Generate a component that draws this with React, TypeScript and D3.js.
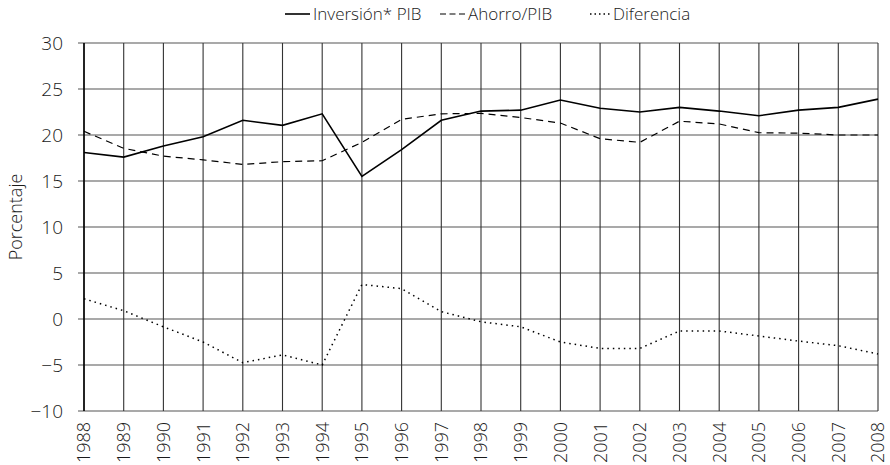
import React from "react";
import * as d3 from "d3";

const years = [1988,1989,1990,1991,1992,1993,1994,1995,1996,1997,1998,1999,2000,2001,2002,2003,2004,2005,2006,2007,2008];
const inversion = [18.1,17.6,18.8,19.8,21.6,21.05,22.3,15.5,18.4,21.6,22.6,22.7,23.8,22.9,22.5,23.0,22.6,22.1,22.7,23.0,23.9];
const ahorro = [20.4,18.55,17.7,17.3,16.8,17.1,17.2,19.2,21.7,22.3,22.35,21.9,21.3,19.6,19.2,21.5,21.2,20.25,20.2,20.0,20.0];
const diferencia = [2.2,0.9,-0.85,-2.5,-4.75,-3.9,-5.0,3.75,3.3,0.8,-0.3,-0.85,-2.5,-3.2,-3.2,-1.3,-1.3,-1.85,-2.4,-2.9,-3.8];
const yTicks = [-10,-5,0,5,10,15,20,25,30];
const legendLabels = ["Inversión* PIB","Ahorro/PIB","Diferencia"];

const W = 890, H = 465;
const left = 84, right = 878, top = 43, bottom = 411;
const FONT = "'Open Sans', 'Noto Sans', sans-serif";
const TXT = "#1a1a1a";

export default function App() {
  const x = d3.scaleLinear().domain([1988, 2008]).range([left, right]);
  const y = d3.scaleLinear().domain([-10, 30]).range([bottom, top]);
  const line = (vals: number[]) =>
    d3.line<number>().x((_, i) => x(years[i])).y((v) => y(v))(vals) || "";

  const series = [
    { vals: inversion, dash: undefined as string | undefined, w: 1.6, ldash: undefined as string | undefined },
    { vals: ahorro, dash: "7,5", w: 1.2, ldash: "6,3.5" },
    { vals: diferencia, dash: "1.5,4", w: 1.5, ldash: "1.5,3" },
  ];
  const legendPos = [
    { x0: 285, tx: 313 },
    { x0: 440, tx: 468 },
    { x0: 590, tx: 613 },
  ];
  const legendLen = [25, 25, 20];

  return (
    <svg width={W} height={H} style={{ position: "absolute", left: 0, top: 0, background: "#fff" }}>
      {yTicks.map((t) => (
        <line key={"h" + t} x1={left - 6} x2={right} y1={y(t)} y2={y(t)} stroke="#555" strokeWidth={1.2} />
      ))}
      {years.map((yr) => (
        <line key={"v" + yr} x1={x(yr)} x2={x(yr)} y1={top} y2={bottom} stroke="#333" strokeWidth={1.1} />
      ))}
      <line x1={left} x2={left} y1={top} y2={bottom} stroke="#000" strokeWidth={1.5} />
      {yTicks.map((t) => (
        <text key={"yt" + t} x={left - 21} y={y(t)} dy="0.36em" textAnchor="end" fontFamily={FONT} fontWeight={300} fontSize={19} fill={TXT}>
          {t < 0 ? "\u2212" + Math.abs(t) : t}
        </text>
      ))}
      {years.map((yr) => (
        <text key={"xt" + yr} transform={`translate(${x(yr)},${bottom + 11}) rotate(-90)`} dy="0.36em" textAnchor="end" fontFamily={FONT} fontWeight={300} fontSize={18} fill={TXT}>
          {yr}
        </text>
      ))}
      <text transform={`translate(22,217) rotate(-90)`} textAnchor="middle" fontFamily={FONT} fontWeight={300} fontSize={18} fill={TXT}>
        Porcentaje
      </text>
      {series.map((s, i) => (
        <path key={"s" + i} d={line(s.vals)} fill="none" stroke="#000" strokeWidth={s.w} strokeDasharray={s.dash} />
      ))}
      {series.map((s, i) => (
        <g key={"lg" + i}>
          <line x1={legendPos[i].x0} x2={legendPos[i].x0 + legendLen[i]} y1={14} y2={14} stroke="#000" strokeWidth={s.w} strokeDasharray={s.ldash} />
          <text x={legendPos[i].tx} y={14} dy="0.36em" fontFamily={FONT} fontWeight={300} fontSize={17} fill={TXT}>
            {legendLabels[i]}
          </text>
        </g>
      ))}
    </svg>
  );
}
